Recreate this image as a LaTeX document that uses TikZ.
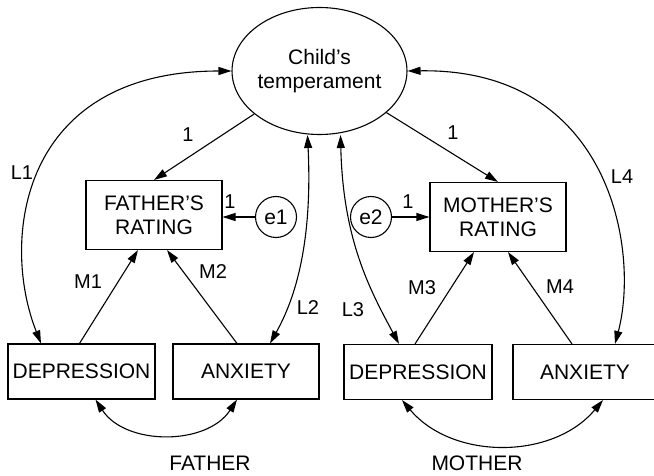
\documentclass[tikz,border=0pt]{standalone}
\usepackage{fontspec}
\setmainfont{Liberation Sans}
\usetikzlibrary{arrows.meta,shapes.geometric}
\begin{document}
\begin{tikzpicture}[x=1pt,y=-1pt,
  every node/.style={font=\fontsize{21}{24}\selectfont, inner sep=0pt},
  obsbox/.style={draw, rectangle, line width=1.1pt, align=center},
  latent/.style={draw, ellipse, line width=1.1pt, align=center, minimum width=165pt, minimum height=127pt},
  errc/.style={draw, circle, line width=1.1pt, minimum size=41pt},
  arr/.style={line width=1.1pt, -{Triangle[length=13pt,width=8pt]}},
  darr/.style={line width=1.1pt, {Triangle[length=13pt,width=8pt]}-{Triangle[length=13pt,width=8pt]}},
  lbl/.style={font=\fontsize{20}{24}\selectfont}
]
\useasboundingbox (0,0) rectangle (654,476);

\node[latent] (child) at (319.5,71) {Child’s\\temperament};
\node[obsbox, minimum width=136pt, minimum height=69pt] (frate) at (154,215) {FATHER’S\\RATING};
\node[obsbox, minimum width=136pt, minimum height=69pt] (mrate) at (498,217) {MOTHER’S\\RATING};
\node[errc] (e1) at (276,217) {e1};
\node[errc] (e2) at (371,217) {e2};
\node[obsbox, minimum width=147pt, minimum height=55pt] (fdep) at (81.5,371.5) {DEPRESSION};
\node[obsbox, minimum width=146pt, minimum height=55pt] (fanx) at (246,371.5) {ANXIETY};
\node[obsbox, minimum width=148pt, minimum height=55pt] (mdep) at (418,372) {DEPRESSION};
\node[obsbox, minimum width=144pt, minimum height=55pt] (manx) at (585,372) {ANXIETY};

% loadings
\draw[arr] (child) -- (frate.north);
\draw[arr] (child) -- (mrate.north);
\draw[arr] (e1) -- (e1 -| frate.east);
\draw[arr] (e2) -- (e2 -| mrate.west);

% M paths
\draw[arr] ([xshift=-2pt]fdep.north) -- ([xshift=-16pt]frate.south);
\draw[arr] ([xshift=-9pt]fanx.north) -- ([xshift=13pt]frate.south);
\draw[arr] ([xshift=-3pt]mdep.north) -- ([xshift=-24pt]mrate.south);
\draw[arr] ([xshift=-13pt]manx.north) -- ([xshift=10pt]mrate.south);

% L paths
\draw[darr] (child.west) .. controls (20,71) and (0,240) .. ([xshift=-40.5pt]fdep.north);
\draw[darr] (child.east) .. controls (610,68) and (640,250) .. ([xshift=30pt]manx.north);
\draw[darr] ([xshift=-12pt]child.south) .. controls (312,230) and (300,290) .. ([xshift=24pt]fanx.north);
\draw[darr] ([xshift=21pt]child.south) .. controls (343,240) and (370,290) .. ([xshift=-19pt]mdep.north);

% within-parent covariances
\draw[darr] ([xshift=14pt]fdep.south) to[out=-57,in=-123] ([xshift=-9pt]fanx.south);
\draw[darr] ([xshift=-16pt]mdep.south) to[out=-50,in=-130] ([xshift=18pt]manx.south);

% labels
\node[lbl] (l1a) at (188,135) {1};
\node[lbl] (l1b) at (453,133) {1};
\node[lbl] (l1c) at (230,202) {1};
\node[lbl] (l1d) at (408,202) {1};
\node[lbl] (L1) at (22,173) {L1};
\node[lbl] (L2) at (308,308) {L2};
\node[lbl] (L3) at (353,310) {L3};
\node[lbl] (L4) at (622,177) {L4};
\node[lbl] (M1) at (88,282) {M1};
\node[lbl] (M2) at (213,272) {M2};
\node[lbl] (M3) at (422,288) {M3};
\node[lbl] (M4) at (560,287) {M4};
\node (father) at (210,463) {FATHER};
\node (mother) at (477,463) {MOTHER};
\end{tikzpicture}
\end{document}
